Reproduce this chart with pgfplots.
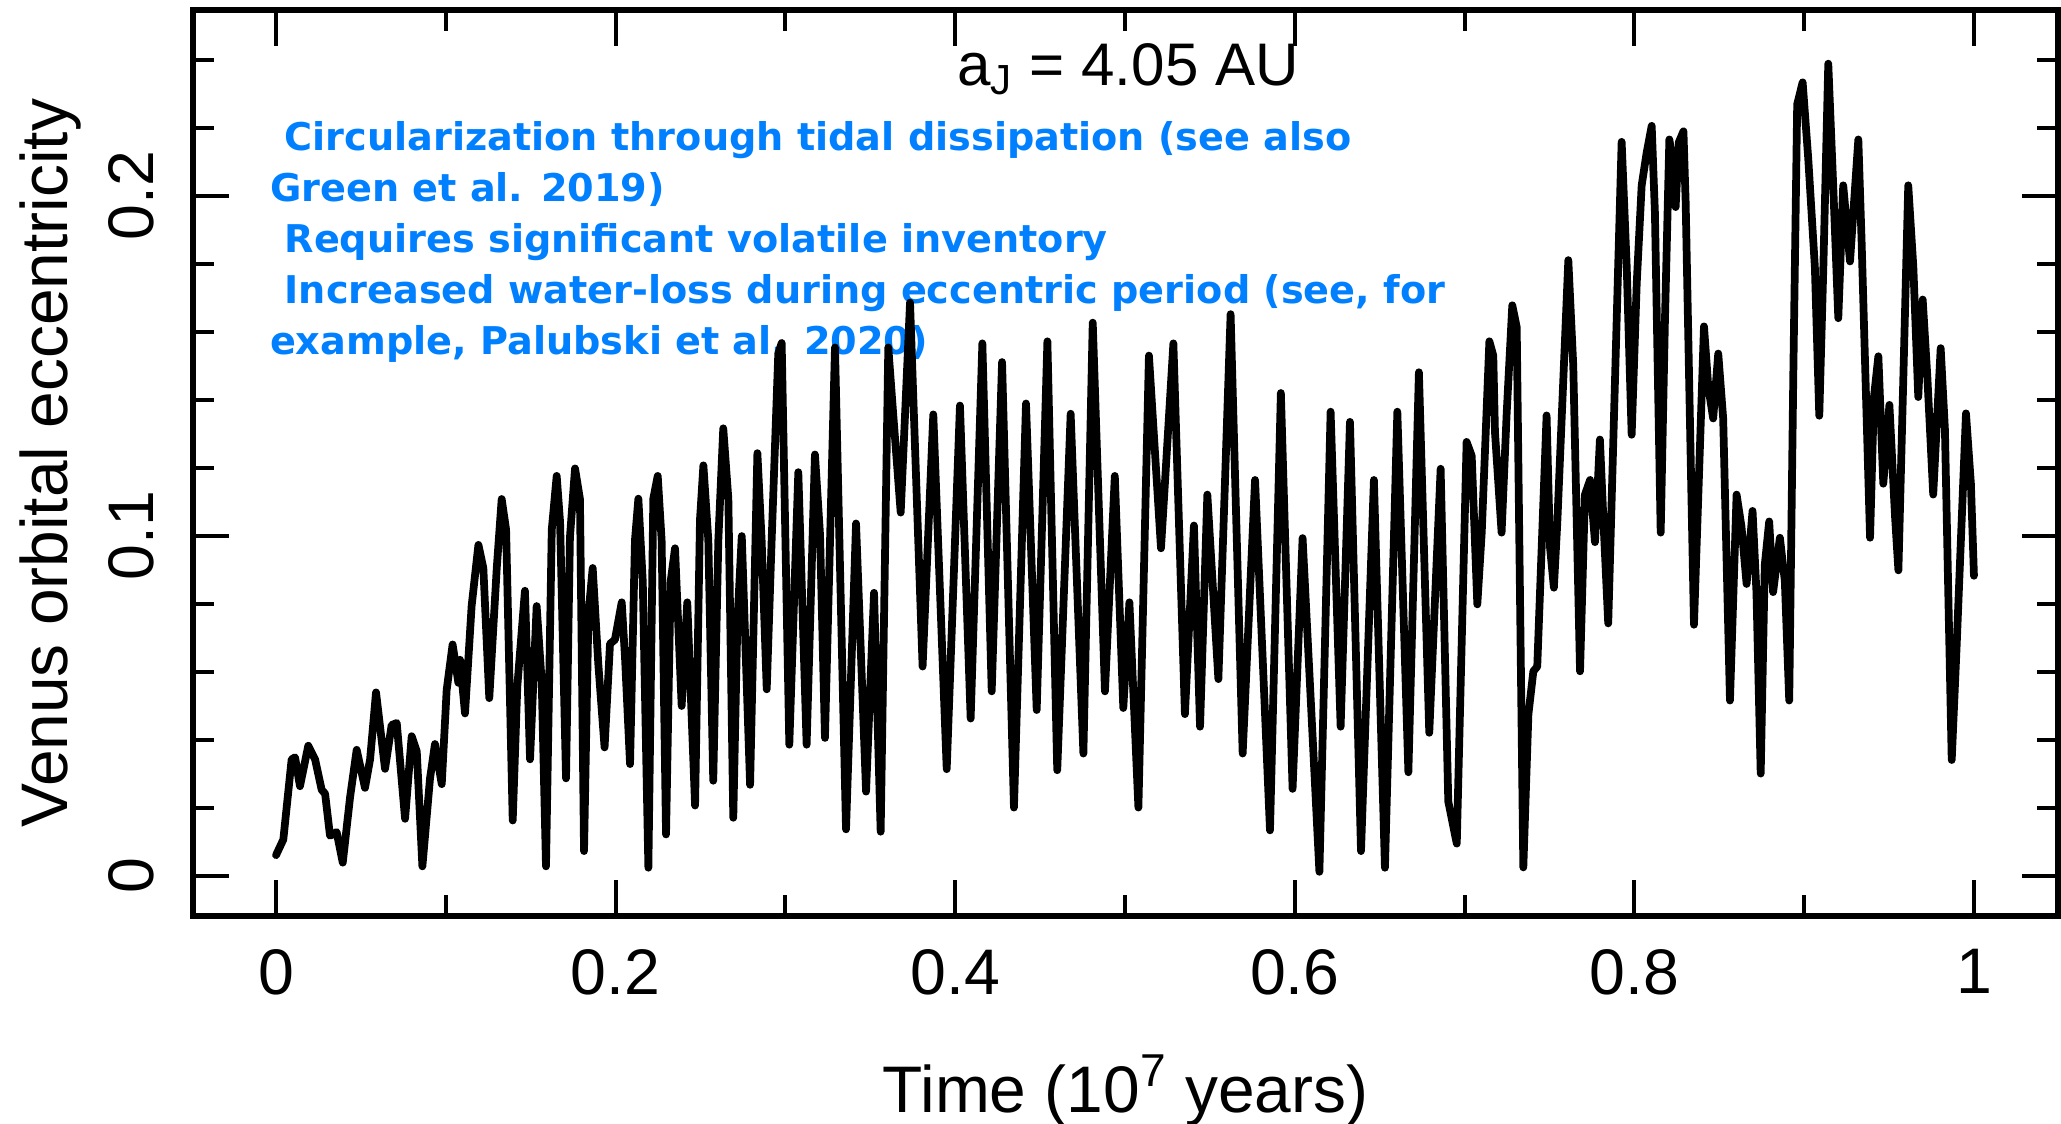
\documentclass[border=0pt]{standalone}
\usepackage{fontspec}
\setmainfont{Liberation Sans}
\newfontfamily\annfont{DejaVu Sans}
\usepackage{pgfplots}
\pgfplotsset{compat=1.18}
\definecolor{annblue}{RGB}{0,128,255}
\begin{document}
\begin{tikzpicture}
\useasboundingbox (-67.42pt,-72.66pt) rectangle (652.55pt,319.99pt);
% annotation text (drawn first, curve goes over it)
\begin{scope}[every node/.style={anchor=base west, inner sep=0pt, text=annblue, font=\annfont\bfseries\fontsize{13.35}{16}\selectfont}]
\node at (31.8pt,267.4pt) {Circularization through tidal dissipation (see also};
\node at (26.7pt,249.6pt) {Green et al. 2019)};
\node at (31.8pt,231.8pt) {Requires significant volatile inventory};
\node at (31.8pt,214.0pt) {Increased water-loss during eccentric period (see, for};
\node at (26.7pt,196.2pt) {example, Palubski et al. 2020)};
\end{scope}
\begin{axis}[
  at={(0,0)}, anchor=south west,
  scale only axis, width=651.5pt, height=316.5pt,
  xmin=-0.0489, xmax=1.0495, ymin=-0.0119, ymax=0.2547,
  xtick={0,0.2,0.4,0.6,0.8,1},
  minor xtick={0.1,0.3,0.5,0.7,0.9},
  ytick={0,0.1,0.2},
  minor ytick={0.02,0.04,0.06,0.08,0.12,0.14,0.16,0.18,0.22,0.24},
  tick align=inside,
  major tick length=12.5pt, minor tick length=7.5pt,
  tick style={black, line width=1.4pt},
  axis line style={line width=2pt},
  /pgf/number format/assume math mode=true,
  tick label style={font=\fontsize{22.5}{27}\selectfont, inner sep=0pt},
  xticklabel style={anchor=north},
  xticklabel shift=11.5pt,
  yticklabel style={rotate=90, anchor=south},
  yticklabel shift=13.3pt,
]
\addplot[black, line width=2.7pt, line join=round, line cap=round] coordinates {
(0.0000,0.0060) (0.0043,0.0106) (0.0092,0.0342) (0.0112,0.0348) (0.0141,0.0263)
(0.0190,0.0382) (0.0230,0.0342) (0.0269,0.0252) (0.0289,0.0241) (0.0318,0.0117)
(0.0357,0.0128) (0.0393,0.0038) (0.0436,0.0230) (0.0475,0.0370) (0.0524,0.0258)
(0.0554,0.0342) (0.0589,0.0539) (0.0642,0.0314) (0.0681,0.0443) (0.0711,0.0449)
(0.0760,0.0167) (0.0799,0.0410) (0.0829,0.0365) (0.0862,0.0027) (0.0907,0.0286)
(0.0936,0.0387) (0.0976,0.0269) (0.1005,0.0546) (0.1040,0.0680) (0.1074,0.0567)
(0.1084,0.0635) (0.1113,0.0477) (0.1152,0.0793) (0.1192,0.0973) (0.1221,0.0905)
(0.1256,0.0522) (0.1300,0.0905) (0.1329,0.1108) (0.1355,0.1018) (0.1394,0.0162)
(0.1421,0.0556) (0.1466,0.0838) (0.1496,0.0342) (0.1535,0.0793) (0.1565,0.0567)
(0.1590,0.0027) (0.1624,0.1018) (0.1653,0.1176) (0.1673,0.1040) (0.1708,0.0286)
(0.1731,0.0995) (0.1761,0.1198) (0.1790,0.1108) (0.1814,0.0072) (0.1840,0.0770)
(0.1865,0.0905) (0.1898,0.0623) (0.1935,0.0377) (0.1967,0.0682) (0.1996,0.0694)
(0.2036,0.0804) (0.2055,0.0645) (0.2085,0.0328) (0.2114,0.0987) (0.2134,0.1109)
(0.2160,0.0865) (0.2193,0.0023) (0.2222,0.1109) (0.2248,0.1176) (0.2271,0.0987)
(0.2297,0.0121) (0.2324,0.0865) (0.2350,0.0963) (0.2389,0.0499) (0.2422,0.0804)
(0.2468,0.0206) (0.2497,0.1048) (0.2517,0.1207) (0.2546,0.0987) (0.2575,0.0279)
(0.2605,0.0987) (0.2634,0.1316) (0.2664,0.1109) (0.2693,0.0170) (0.2717,0.0744)
(0.2743,0.0999) (0.2792,0.0267) (0.2835,0.1243) (0.2860,0.0987) (0.2890,0.0548)
(0.2919,0.0987) (0.2958,0.1536) (0.2978,0.1567) (0.3023,0.0385) (0.3076,0.1187)
(0.3125,0.0385) (0.3174,0.1239) (0.3204,0.1003) (0.3233,0.0405) (0.3292,0.1554)
(0.3357,0.0136) (0.3416,0.1036) (0.3475,0.0247) (0.3522,0.0832) (0.3561,0.0129)
(0.3606,0.1554) (0.3635,0.1357) (0.3679,0.1068) (0.3734,0.1686) (0.3808,0.0615)
(0.3871,0.1357) (0.3950,0.0313) (0.4028,0.1383) (0.4091,0.0462) (0.4160,0.1566)
(0.4215,0.0542) (0.4276,0.1511) (0.4346,0.0200) (0.4417,0.1389) (0.4480,0.0487)
(0.4543,0.1572) (0.4601,0.0310) (0.4680,0.1359) (0.4755,0.0359) (0.4810,0.1627)
(0.4882,0.0542) (0.4940,0.1176) (0.4990,0.0493) (0.5026,0.0804) (0.5079,0.0200)
(0.5141,0.1530) (0.5212,0.0963) (0.5285,0.1566) (0.5353,0.0475) (0.5406,0.1030)
(0.5442,0.0438) (0.5485,0.1121) (0.5550,0.0578) (0.5622,0.1652) (0.5693,0.0359)
(0.5766,0.1164) (0.5854,0.0133) (0.5918,0.1420) (0.5987,0.0255) (0.6046,0.0993)
(0.6145,0.0011) (0.6211,0.1365) (0.6270,0.0438) (0.6325,0.1335) (0.6390,0.0072)
(0.6466,0.1164) (0.6531,0.0023) (0.6604,0.1365) (0.6669,0.0304) (0.6731,0.1481)
(0.6792,0.0420) (0.6859,0.1197) (0.6904,0.0218) (0.6954,0.0094) (0.7012,0.1276)
(0.7042,0.1235) (0.7075,0.0798) (0.7101,0.1009) (0.7146,0.1572) (0.7169,0.1530)
(0.7179,0.1305) (0.7218,0.1009) (0.7248,0.1361) (0.7281,0.1678) (0.7307,0.1614)
(0.7346,0.0024) (0.7376,0.0475) (0.7405,0.0601) (0.7428,0.0615) (0.7483,0.1354)
(0.7503,0.0967) (0.7526,0.0847) (0.7546,0.1037) (0.7611,0.1811) (0.7640,0.1502)
(0.7680,0.0601) (0.7709,0.1121) (0.7739,0.1164) (0.7768,0.0981) (0.7797,0.1283)
(0.7821,0.1009) (0.7846,0.0742) (0.7925,0.2159) (0.7955,0.1791) (0.7984,0.1297)
(0.8014,0.1744) (0.8043,0.2031) (0.8072,0.2126) (0.8102,0.2206) (0.8121,0.1951)
(0.8155,0.1009) (0.8180,0.1632) (0.8206,0.2166) (0.8223,0.2110) (0.8243,0.1967)
(0.8262,0.2158) (0.8289,0.2190) (0.8302,0.1983) (0.8322,0.1472) (0.8351,0.0738)
(0.8410,0.1616) (0.8435,0.1440) (0.8464,0.1345) (0.8494,0.1536) (0.8523,0.1345)
(0.8563,0.0515) (0.8602,0.1121) (0.8631,0.1026) (0.8661,0.0858) (0.8696,0.1073)
(0.8719,0.0834) (0.8744,0.0300) (0.8768,0.0914) (0.8794,0.1042) (0.8817,0.0834)
(0.8857,0.0994) (0.8886,0.0867) (0.8912,0.0515) (0.8936,0.1472) (0.8959,0.2270)
(0.8991,0.2334) (0.9024,0.2110) (0.9063,0.1791) (0.9089,0.1353) (0.9113,0.1791)
(0.9142,0.2389) (0.9171,0.2031) (0.9201,0.1640) (0.9230,0.2031) (0.9270,0.1807)
(0.9319,0.2166) (0.9338,0.1871) (0.9388,0.0994) (0.9411,0.1408) (0.9437,0.1528)
(0.9466,0.1153) (0.9502,0.1385) (0.9535,0.1058) (0.9555,0.0898) (0.9613,0.2031)
(0.9643,0.1791) (0.9672,0.1408) (0.9698,0.1695) (0.9725,0.1472) (0.9760,0.1121)
(0.9804,0.1552) (0.9829,0.1313) (0.9869,0.0340) (0.9898,0.0675) (0.9953,0.1360)
(0.9982,0.1153) (1.0000,0.0882)
};
\end{axis}
\node[anchor=base, inner sep=0pt, font=\fontsize{21}{25}\selectfont] at (326.6pt,290.1pt) {a\textsubscript{J} = 4.05 AU};
\node[anchor=base, inner sep=0pt, font=\fontsize{23}{27}\selectfont] at (325.75pt,-68.5pt) {Time (10\textsuperscript{7} years)};
\node[anchor=base, rotate=90, inner sep=0pt, font=\fontsize{23}{27}\selectfont] at (-44pt,158.25pt) {Venus orbital eccentricity};
\end{tikzpicture}
\end{document}
